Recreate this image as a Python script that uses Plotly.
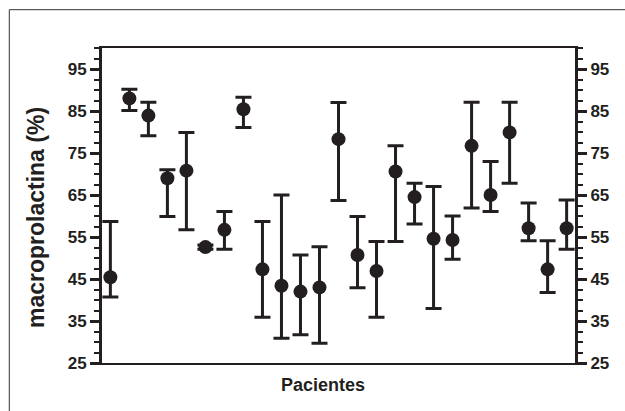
import plotly.graph_objects as go

patients = list(range(1, 26))
values = [45.4, 88.0, 83.9, 69.0, 70.8, 52.6, 56.7, 85.4, 47.3, 43.4, 42.0, 43.0, 78.3,
          50.7, 46.9, 70.6, 64.5, 54.6, 54.3, 76.7, 65.0, 79.9, 57.1, 47.3, 57.1]
upper = [58.7, 90.2, 87.1, 71.0, 79.9, 53.1, 61.1, 88.3, 58.7, 65.0, 50.7, 52.7, 87.0,
         59.9, 53.9, 76.7, 67.8, 67.0, 60.0, 87.1, 73.0, 87.1, 63.1, 54.1, 63.8]
lower = [40.7, 85.1, 79.1, 59.9, 56.7, 52.1, 52.1, 81.1, 35.9, 30.9, 31.7, 29.7, 63.7,
         42.9, 35.9, 53.9, 58.1, 38.0, 49.7, 61.9, 61.1, 67.8, 54.1, 41.8, 52.1]
tick_vals = [25, 35, 45, 55, 65, 75, 85, 95]

err_plus = [u - v for u, v in zip(upper, values)]
err_minus = [v - l for v, l in zip(values, lower)]

INK = "#231f20"
FONT = "Liberation Sans, Arial, Helvetica, sans-serif"

fig = go.Figure()
fig.add_trace(go.Scatter(
    x=patients, y=values, mode="markers",
    marker=dict(size=14, color=INK, symbol="circle"),
    error_y=dict(type="data", symmetric=False, array=err_plus, arrayminus=err_minus,
                 color=INK, thickness=3, width=8),
    showlegend=False, hoverinfo="skip"))
fig.add_trace(go.Scatter(
    x=[patients[0]], y=[values[0]], yaxis="y2", mode="markers",
    marker=dict(opacity=0), showlegend=False, hoverinfo="skip"))

yax = dict(range=[25, 100], tickvals=tick_vals, ticks="outside", ticklen=9, tickwidth=3,
           tickcolor=INK, showline=True, linewidth=3, linecolor=INK, showgrid=False,
           zeroline=False, tickfont=dict(family=FONT, size=17, color=INK, weight="bold"),
           minor=dict(dtick=2.5, ticks="outside", ticklen=5, tickwidth=2, tickcolor=INK))

fig.update_layout(
    width=625, height=411,
    margin=dict(l=102, r=50, t=48, b=48),
    paper_bgcolor="white", plot_bgcolor="white",
    font=dict(family=FONT, color=INK),
    xaxis=dict(range=[0.56, 25.44], showline=True, linewidth=2, linecolor=INK,
               mirror=True, ticks="", showticklabels=False, showgrid=False, zeroline=False),
    yaxis=dict(**yax, side="left"),
    yaxis2=dict(**yax, side="right", overlaying="y"),
    annotations=[
        dict(text="macroprolactina (%)", x=-0.139, y=0.461, xref="paper", yref="paper",
             textangle=-90, showarrow=False, xanchor="center", yanchor="middle",
             font=dict(family=FONT, size=23, color=INK, weight="bold")),
        dict(text="Pacientes", x=0.468, y=-0.069, xref="paper", yref="paper",
             showarrow=False, xanchor="center", yanchor="middle",
             font=dict(family=FONT, size=18, color=INK, weight="bold")),
    ],
    shapes=[
        dict(type="line", xref="paper", yref="paper", x0=-0.196, x1=1.2, y0=1.1216, y1=1.1216,
             line=dict(color="#333333", width=1)),
        dict(type="line", xref="paper", yref="paper", x0=-0.196, x1=-0.196, y0=1.1216, y1=-0.2,
             line=dict(color="#333333", width=1)),
    ],
)

fig.write_html("out.html")
